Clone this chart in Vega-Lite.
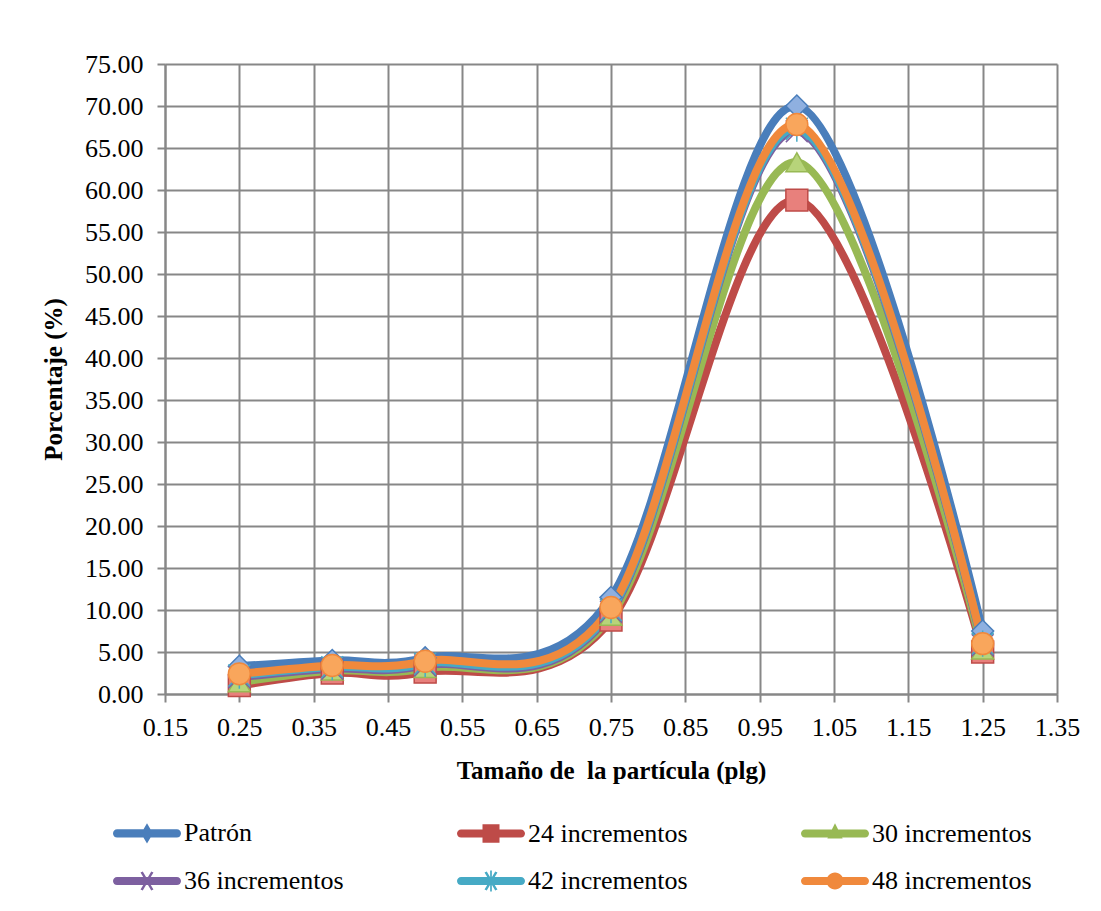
{
  "$schema": "https://vega.github.io/schema/vega-lite/v6.json",
  "width": 892,
  "height": 630,
  "autosize": {"type": "none"},
  "padding": {"left": 165, "top": 64, "right": 44, "bottom": 217},
  "background": "white",
  "config": {
    "view": {"stroke": null},
    "font": "Liberation Serif",
    "axis": {
      "gridColor": "#878787", "gridWidth": 2, "gridOpacity": 1,
      "domainColor": "#878787", "domainWidth": 2,
      "tickColor": "#878787", "tickWidth": 2, "tickSize": 8,
      "labelFont": "Liberation Serif", "labelFontSize": 26, "labelColor": "#000000",
      "titleFont": "Liberation Serif", "titleFontSize": 25, "titleFontWeight": "bold", "titleColor": "#000000"
    }
  },
  "data": {"values": [
    {"x": 0.25, "y": 3.3, "serie": "Patrón"},
    {"x": 0.375, "y": 4.0, "serie": "Patrón"},
    {"x": 0.5, "y": 4.3, "serie": "Patrón"},
    {"x": 0.75, "y": 11.5, "serie": "Patrón"},
    {"x": 1.0, "y": 70.0, "serie": "Patrón"},
    {"x": 1.25, "y": 7.5, "serie": "Patrón"},
    {"x": 0.25, "y": 1.0, "serie": "24 incrementos"},
    {"x": 0.375, "y": 2.5, "serie": "24 incrementos"},
    {"x": 0.5, "y": 2.6, "serie": "24 incrementos"},
    {"x": 0.75, "y": 8.8, "serie": "24 incrementos"},
    {"x": 1.0, "y": 58.8, "serie": "24 incrementos"},
    {"x": 1.25, "y": 5.0, "serie": "24 incrementos"},
    {"x": 0.25, "y": 1.4, "serie": "30 incrementos"},
    {"x": 0.375, "y": 2.8, "serie": "30 incrementos"},
    {"x": 0.5, "y": 3.1, "serie": "30 incrementos"},
    {"x": 0.75, "y": 9.3, "serie": "30 incrementos"},
    {"x": 1.0, "y": 63.3, "serie": "30 incrementos"},
    {"x": 1.25, "y": 5.3, "serie": "30 incrementos"},
    {"x": 0.25, "y": 2.0, "serie": "36 incrementos"},
    {"x": 0.375, "y": 3.0, "serie": "36 incrementos"},
    {"x": 0.5, "y": 3.4, "serie": "36 incrementos"},
    {"x": 0.75, "y": 9.8, "serie": "36 incrementos"},
    {"x": 1.0, "y": 67.0, "serie": "36 incrementos"},
    {"x": 1.25, "y": 5.8, "serie": "36 incrementos"},
    {"x": 0.25, "y": 2.2, "serie": "42 incrementos"},
    {"x": 0.375, "y": 3.2, "serie": "42 incrementos"},
    {"x": 0.5, "y": 3.6, "serie": "42 incrementos"},
    {"x": 0.75, "y": 10.0, "serie": "42 incrementos"},
    {"x": 1.0, "y": 67.3, "serie": "42 incrementos"},
    {"x": 1.25, "y": 6.0, "serie": "42 incrementos"},
    {"x": 0.25, "y": 2.4, "serie": "48 incrementos"},
    {"x": 0.375, "y": 3.4, "serie": "48 incrementos"},
    {"x": 0.5, "y": 3.9, "serie": "48 incrementos"},
    {"x": 0.75, "y": 10.3, "serie": "48 incrementos"},
    {"x": 1.0, "y": 67.8, "serie": "48 incrementos"},
    {"x": 1.25, "y": 6.0, "serie": "48 incrementos"}
  ]},
  "encoding": {
    "x": {
      "field": "x", "type": "quantitative",
      "scale": {"domain": [0.15, 1.35], "nice": false, "zero": false},
      "axis": {
        "values": [0.15, 0.25, 0.35, 0.45, 0.55, 0.65, 0.75, 0.85, 0.95, 1.05, 1.15, 1.25, 1.35],
        "format": ".2f", "title": "Tamaño de\u00a0 la partícula (plg)",
        "labelPadding": 12, "titlePadding": 18, "labelFlush": false, "labelOverlap": false
      }
    },
    "y": {
      "field": "y", "type": "quantitative",
      "scale": {"domain": [0, 75], "nice": false},
      "axis": {
        "values": [0, 5, 10, 15, 20, 25, 30, 35, 40, 45, 50, 55, 60, 65, 70, 75],
        "format": ".2f", "title": "Porcentaje (%)",
        "labelPadding": 14, "titlePadding": 18, "labelFlush": false, "labelOverlap": false
      }
    }
  },
  "layer": [
    {
      "mark": {"type": "line", "interpolate": "cardinal", "tension": 0, "strokeWidth": 8, "strokeCap": "round", "strokeJoin": "round"},
      "encoding": {
        "stroke": {
          "field": "serie", "type": "nominal", "legend": null,
          "scale": {
            "domain": ["Patrón", "24 incrementos", "30 incrementos", "36 incrementos", "42 incrementos", "48 incrementos"],
            "range": ["#4A7EBB", "#BE4B48", "#98B954", "#7D60A0", "#46AAC5", "#F0893C"]
          }
        },
        "order": {"field": "x", "type": "quantitative"}
      }
    },
    {
      "mark": {"type": "point", "filled": true, "size": 480, "strokeWidth": 1.5, "opacity": 1},
      "encoding": {
        "stroke": {"field": "serie", "type": "nominal", "legend": null},
        "fill": {
          "field": "serie", "type": "nominal", "legend": null,
          "scale": {
            "domain": ["Patrón", "24 incrementos", "30 incrementos", "36 incrementos", "42 incrementos", "48 incrementos"],
            "range": ["#8FB0E0", "#E8807C", "#B7D47A", "#9C84BF", "#72C4DA", "#F9A65C"]
          }
        },
        "shape": {
          "field": "serie", "type": "nominal", "legend": null,
          "scale": {
            "domain": ["Patrón", "24 incrementos", "30 incrementos", "36 incrementos", "42 incrementos", "48 incrementos"],
            "range": ["diamond", "square", "triangle-up", "M-1,-1L1,1M1,-1L-1,1", "M-1,-1L1,1M1,-1L-1,1M0,-1.2L0,1.2", "circle"]
          }
        }
      }
    },
    {
      "mark": {"type": "point", "filled": true, "opacity": 0},
      "encoding": {
        "fill": {
          "field": "serie", "type": "nominal",
          "scale": {
            "domain": ["Patrón", "36 incrementos", "24 incrementos", "42 incrementos", "30 incrementos", "48 incrementos"],
            "range": ["#4A7EBB", "#7D60A0", "#BE4B48", "#46AAC5", "#98B954", "#F0893C"]
          },
          "legend": {
            "title": null,
            "orient": "none",
            "legendX": -53,
            "legendY": 751,
            "columns": 3,
            "columnPadding": 110,
            "rowPadding": 16,
            "padding": 0,
            "symbolSize": 1156,
            "symbolOpacity": 1,
            "symbolStrokeWidth": 1.5,
            "labelOffset": 36,
            "labelFont": "Liberation Serif",
            "labelFontSize": 26,
            "labelColor": "#000000",
            "labelLimit": 400
          }
        },
        "shape": {
          "field": "serie", "type": "nominal",
          "scale": {
            "domain": ["Patrón", "36 incrementos", "24 incrementos", "42 incrementos", "30 incrementos", "48 incrementos"],
            "range": [
              "M-0.76,-0.24H2.76A0.24,0.24 0 0,1 2.76,0.24H-0.76A0.24,0.24 0 0,1 -0.76,-0.24Z M1,-0.6L1.35,0L1,0.6L0.65,0Z",
              "M-0.76,-0.24H2.76A0.24,0.24 0 0,1 2.76,0.24H-0.76A0.24,0.24 0 0,1 -0.76,-0.24Z M0.62,-0.5L0.75,-0.56L1.38,0.5L1.25,0.56Z M1.25,-0.56L1.38,-0.5L0.75,0.56L0.62,0.5Z",
              "M-0.76,-0.24H2.76A0.24,0.24 0 0,1 2.76,0.24H-0.76A0.24,0.24 0 0,1 -0.76,-0.24Z M0.5,-0.55H1.5V0.55H0.5Z",
              "M-0.76,-0.24H2.76A0.24,0.24 0 0,1 2.76,0.24H-0.76A0.24,0.24 0 0,1 -0.76,-0.24Z M0.62,-0.5L0.75,-0.56L1.38,0.5L1.25,0.56Z M1.25,-0.56L1.38,-0.5L0.75,0.56L0.62,0.5Z M0.95,-0.62H1.05V0.62H0.95Z",
              "M-0.76,-0.24H2.76A0.24,0.24 0 0,1 2.76,0.24H-0.76A0.24,0.24 0 0,1 -0.76,-0.24Z M1,-0.6L1.45,0.3H0.55Z",
              "M-0.76,-0.24H2.76A0.24,0.24 0 0,1 2.76,0.24H-0.76A0.24,0.24 0 0,1 -0.76,-0.24Z M0.5,0A0.5,0.5 0 1,1 1.5,0A0.5,0.5 0 1,1 0.5,0Z"
            ]
          },
          "legend": {
            "title": null,
            "orient": "none",
            "legendX": -53,
            "legendY": 751,
            "columns": 3,
            "columnPadding": 110,
            "rowPadding": 16,
            "padding": 0,
            "symbolSize": 1156,
            "symbolOpacity": 1,
            "symbolStrokeWidth": 1.5,
            "labelOffset": 36,
            "labelFont": "Liberation Serif",
            "labelFontSize": 26,
            "labelColor": "#000000",
            "labelLimit": 400
          }
        }
      }
    }
  ],
  "resolve": {"scale": {"shape": "independent", "fill": "independent"}}
}
